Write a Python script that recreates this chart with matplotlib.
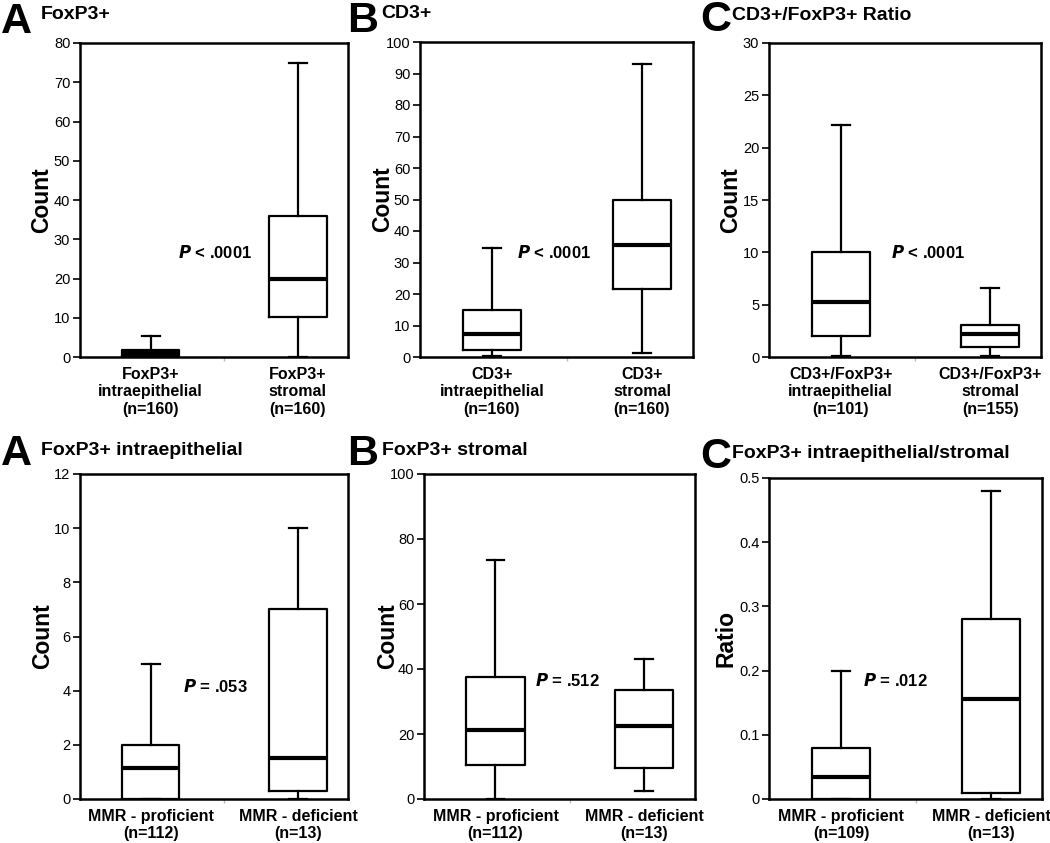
import matplotlib
matplotlib.use("Agg")
import matplotlib.pyplot as plt
from matplotlib.ticker import FixedLocator
from matplotlib.transforms import blended_transform_factory

plt.rcParams['font.family'] = ['Liberation Sans', 'DejaVu Sans']

# ---------------- data ----------------
# each box: [whislo, q1, median, q3, whishi]
foxp3_labels = ["FoxP3+\nintraepithelial\n(n=160)", "FoxP3+\nstromal\n(n=160)"]
foxp3_intra = [0.0, 0.3, 1.0, 1.9, 5.3]
foxp3_strom = [0.0, 10.2, 19.8, 36.0, 75.0]

cd3_labels = ["CD3+\nintraepithelial\n(n=160)", "CD3+\nstromal\n(n=160)"]
cd3_intra = [0.2, 2.2, 7.2, 15.0, 34.7]
cd3_strom = [1.2, 21.5, 35.5, 49.8, 93.0]

ratio_labels = ["CD3+/FoxP3+\nintraepithelial\n(n=101)", "CD3+/FoxP3+\nstromal\n(n=155)"]
ratio_intra = [0.05, 2.0, 5.3, 10.0, 22.2]
ratio_strom = [0.05, 1.0, 2.2, 3.1, 6.6]

mmr_intra_labels = ["MMR - proficient\n(n=112)", "MMR - deficient\n(n=13)"]
mmr_intra_prof = [0.0, 0.0, 1.15, 2.0, 5.0]
mmr_intra_def = [0.0, 0.3, 1.5, 7.0, 10.0]

mmr_strom_labels = ["MMR - proficient\n(n=112)", "MMR - deficient\n(n=13)"]
mmr_strom_prof = [0.0, 10.5, 21.2, 37.6, 73.5]
mmr_strom_def = [2.5, 9.5, 22.5, 33.5, 43.0]

mmr_ratio_labels = ["MMR - proficient\n(n=109)", "MMR - deficient\n(n=13)"]
mmr_ratio_prof = [0.0, 0.0, 0.035, 0.079, 0.2]
mmr_ratio_def = [0.0, 0.01, 0.155, 0.28, 0.48]

# y tick values / labels
yt_foxp3 = [0, 10, 20, 30, 40, 50, 60, 70, 80]
yt_cd3 = [0, 10, 20, 30, 40, 50, 60, 70, 80, 90, 100]
yt_ratio = [0, 5, 10, 15, 20, 25, 30]
yt_mmr_intra = [0, 2, 4, 6, 8, 10, 12]
yt_mmr_strom = [0, 20, 40, 60, 80, 100]
yt_mmr_ratio = [0, 0.1, 0.2, 0.3, 0.4, 0.5]
ytl_mmr_ratio = ["0", "0.1", "0.2", "0.3", "0.4", "0.5"]

panels = [
    # letter, title, ylabel, labels, boxes, yticks, yticklabels, p, op, p x (axes frac), p y (data),
    # axes px (left, right, top, bottom), letter px (x, baseline), title px (x, baseline), ylabel x (axes frac)
    ("A", "FoxP3+", "Count", foxp3_labels, [foxp3_intra, foxp3_strom], yt_foxp3, None,
     ".0001", "<", 0.365, 26.7, (80, 348, 43, 357), (1, 33), (41, 19), -0.145),
    ("B", "CD3+", "Count", cd3_labels, [cd3_intra, cd3_strom], yt_cd3, None,
     ".0001", "<", 0.355, 33.3, (420, 693, 42, 357), (347, 32), (381, 18), -0.138),
    ("C", "CD3+/FoxP3+ Ratio", "Count", ratio_labels, [ratio_intra, ratio_strom], yt_ratio, None,
     ".0001", "<", 0.45, 10.0, (769, 1041, 43, 357), (700, 31), (732, 20), -0.14),
    ("A", "FoxP3+ intraepithelial", "Count", mmr_intra_labels, [mmr_intra_prof, mmr_intra_def],
     yt_mmr_intra, None, ".053", "=", 0.385, 4.14, (80, 348, 474, 799), (1, 465), (41, 455), -0.14),
    ("B", "FoxP3+ stromal", "Count", mmr_strom_labels, [mmr_strom_prof, mmr_strom_def],
     yt_mmr_strom, None, ".512", "=", 0.41, 36.6, (424, 695, 474, 799), (347, 465), (382, 455), -0.135),
    ("C", "FoxP3+ intraepithelial/stromal", "Ratio", mmr_ratio_labels, [mmr_ratio_prof, mmr_ratio_def],
     yt_mmr_ratio, ytl_mmr_ratio, ".012", "=", 0.345, 0.184, (769, 1042, 478, 799), (700, 468), (732, 458), -0.158),
]

W, H = 1050, 843
fig = plt.figure(figsize=(W / 100, H / 100), dpi=100)

for (letter, title, ylab, labels, boxes, yticks, yticklabels, pval, op, px, py,
     (l, r, t, b), (lx, ly), (tx, ty), ylx) in panels:
    ax = fig.add_axes([l / W, 1 - b / H, (r - l) / W, (b - t) / H])
    stats = []
    for lab, v in zip(labels, boxes):
        stats.append(dict(whislo=v[0], q1=v[1], med=v[2], q3=v[3], whishi=v[4], fliers=[], label=lab))
    ax.bxp(stats, positions=[1, 2], widths=0.39, showfliers=False, patch_artist=False,
           boxprops=dict(color="black", linewidth=1.6),
           whiskerprops=dict(color="black", linewidth=1.6),
           capprops=dict(color="black", linewidth=1.6),
           medianprops=dict(color="black", linewidth=3.0),
           capwidths=0.12)
    ax.set_xlim(0.52, 2.34)
    ax.set_ylim(yticks[0], yticks[-1])
    ax.yaxis.set_major_locator(FixedLocator(yticks))
    if yticklabels is not None:
        ax.set_yticklabels(yticklabels)
    ax.tick_params(axis="y", direction="out", length=5, width=1.2, labelsize=10.5, pad=2)
    ax.tick_params(axis="x", length=0, labelsize=11.5, pad=7)
    for lbl in ax.get_xticklabels():
        lbl.set_fontweight("bold")
    ax.set_xticks([1.5], minor=True)
    ax.tick_params(axis="x", which="minor", length=3, color="#bbbbbb", width=1)
    for s in ax.spines.values():
        s.set_linewidth(1.8)
    ax.set_ylabel(ylab, fontsize=16.5, fontweight="bold")
    ax.yaxis.set_label_coords(ylx, 0.5)
    ax.yaxis.label.set_va("center")
    ax.text(px, py, "$\\mathbfit{P}$" + f" {op} {pval}",
            transform=blended_transform_factory(ax.transAxes, ax.transData),
            fontsize=12, fontweight="bold", va="center", ha="left")
    fig.text(lx / W, 1 - ly / H, letter, fontsize=31, fontweight="bold", va="baseline", ha="left")
    fig.text(tx / W, 1 - ty / H, title, fontsize=14, fontweight="bold", va="baseline", ha="left")

fig.savefig("out.png", dpi=100)
